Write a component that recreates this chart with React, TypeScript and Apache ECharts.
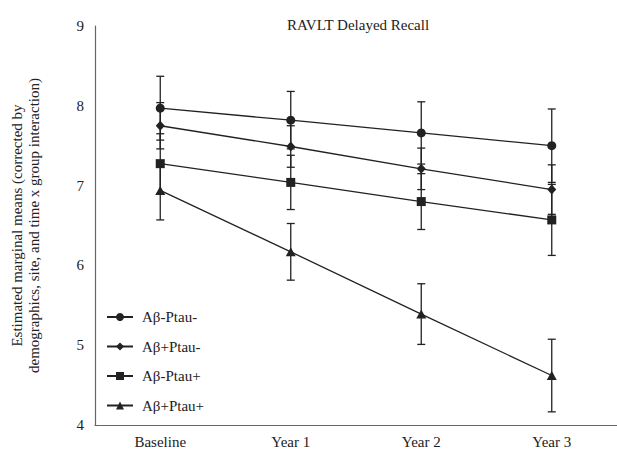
import React, { useEffect, useRef } from "react";
import * as echarts from "echarts";

const categories = ["Baseline", "Year 1", "Year 2", "Year 3"];
const seriesNames = ["Aβ-Ptau-", "Aβ+Ptau-", "Aβ-Ptau+", "Aβ+Ptau+"];
const abNegPtauNeg = [7.97, 7.82, 7.66, 7.5];
const abNegPtauNegErr = [0.4, 0.36, 0.39, 0.46];
const abPosPtauNeg = [7.75, 7.49, 7.21, 6.95];
const abPosPtauNegErr = [0.29, 0.26, 0.26, 0.31];
const abNegPtauPos = [7.275, 7.04, 6.8, 6.57];
const abNegPtauPosErr = [0.375, 0.34, 0.35, 0.445];
const abPosPtauPos = [6.94, 6.17, 5.39, 4.62];
const abPosPtauPosErr = [0.37, 0.355, 0.38, 0.455];
const yTicks = [4, 5, 6, 7, 8, 9];

const FONT = "'Liberation Serif', 'DejaVu Serif', serif";
const INK = "#222";

export default function App() {
  const ref = useRef<HTMLDivElement>(null);

  useEffect(() => {
    if (!ref.current) return;
    const chart = echarts.init(ref.current, null, { renderer: "svg" });

    const means = [abNegPtauNeg, abPosPtauNeg, abNegPtauPos, abPosPtauPos];
    const errs = [abNegPtauNegErr, abPosPtauNegErr, abNegPtauPosErr, abPosPtauPosErr];
    const symbols = ["circle", "diamond", "rect", "triangle"];
    const sizes: any[] = [9, [9, 10], 9, [10, 9]];

    const lineSeries = means.map((m, i) => ({
      type: "line",
      name: seriesNames[i],
      data: m,
      symbol: symbols[i],
      symbolSize: sizes[i],
      showSymbol: true,
      z: 3,
      lineStyle: { color: INK, width: 1.3 },
      itemStyle: { color: INK, borderWidth: 0 },
    }));

    const errSeries = means.map((m, i) => ({
      type: "custom",
      name: "err" + i,
      z: 2,
      data: m.map((v, j) => [j, v, errs[i][j]]),
      encode: { x: 0, y: 1 },
      renderItem: (params: any, api: any) => {
        const x = api.value(0);
        const mean = api.value(1);
        const e = api.value(2);
        const top = api.coord([x, mean + e]);
        const bot = api.coord([x, mean - e]);
        const hw = 4;
        const style = { stroke: INK, lineWidth: 1.3 };
        return {
          type: "group",
          children: [
            { type: "line", shape: { x1: top[0], y1: top[1], x2: bot[0], y2: bot[1] }, style },
            { type: "line", shape: { x1: top[0] - hw, y1: top[1], x2: top[0] + hw, y2: top[1] }, style },
            { type: "line", shape: { x1: bot[0] - hw, y1: bot[1], x2: bot[0] + hw, y2: bot[1] }, style },
          ],
        };
      },
    }));

    chart.setOption({
      animation: false,
      backgroundColor: "#fff",
      title: {
        text: "RAVLT Delayed Recall",
        left: 353,
        textAlign: "center",
        top: 12,
        textStyle: { fontFamily: FONT, fontSize: 15, fontWeight: "normal", color: INK },
      },
      legend: {
        data: seriesNames,
        orient: "vertical",
        left: 101,
        top: 304,
        itemWidth: 26,
        itemHeight: 10,
        itemGap: 13.5,
        textStyle: { fontFamily: FONT, fontSize: 15, color: INK, lineHeight: 16, padding: [0, 0, 0, 4] },
      },
      grid: { left: 80, top: 26, width: 547, height: 400 },
      xAxis: {
        type: "category",
        data: categories,
        boundaryGap: true,
        axisLine: { lineStyle: { color: "#666", width: 1.2 } },
        axisTick: { show: false },
        axisLabel: { fontFamily: FONT, fontSize: 15, color: INK, margin: 9 },
      },
      yAxis: {
        type: "value",
        min: yTicks[0],
        max: yTicks[yTicks.length - 1],
        interval: 1,
        axisLine: { show: true, lineStyle: { color: "#666", width: 1.2 } },
        axisTick: { show: false },
        splitLine: { show: false },
        axisLabel: { fontFamily: FONT, fontSize: 15, color: INK, margin: 11 },
        name: "Estimated marginal means (corrected by\ndemographics, site, and time x group interaction)",
        nameLocation: "middle",
        nameGap: 53,
        nameTextStyle: { fontFamily: FONT, fontSize: 15, color: INK, lineHeight: 17 },
      },
      series: [...errSeries, ...lineSeries],
    });

    return () => chart.dispose();
  }, []);

  return (
    <div
      ref={ref}
      style={{ position: "fixed", left: 0, top: 0, width: 617, height: 449, background: "#fff" }}
    />
  );
}
